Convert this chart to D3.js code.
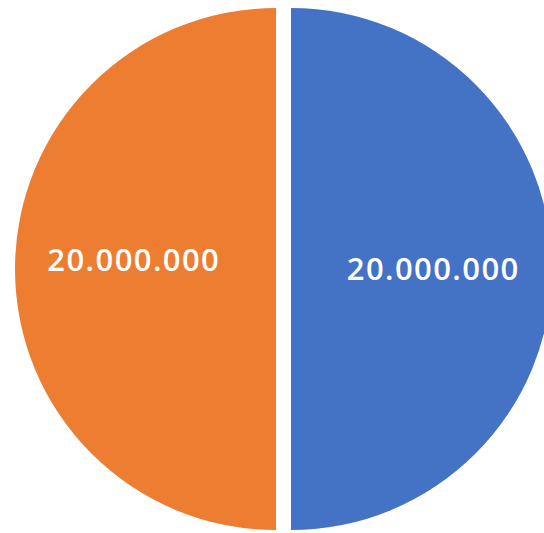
<!DOCTYPE html>
<html lang="en">
<head>
<meta charset="utf-8" />
<title>Pie</title>
<style>
  body { margin: 0; background: #fff; }
  svg { display: block; }
</style>
</head>
<body>
<div id="chart"></div>
<script src="https://cdn.jsdelivr.net/npm/d3@7/dist/d3.min.js"></script>
<script type="text/javascript">
// chart data
var categories = ["B", "A"];
var values = [20000000, 20000000];
var labels = ["20.000.000", "20.000.000"];
var colors = ["#4472C4", "#ED7D31"];

var width = 544, height = 533;
var r = 261, cx = 283.5, cy = 269, explode = 7.5;

var svg = d3.select("#chart").append("svg")
    .attr("width", width)
    .attr("height", height);

var pie = d3.pie().sort(null).value(function (d) { return d; });
var arc = d3.arc().innerRadius(0).outerRadius(r);
var labelArc = d3.arc().innerRadius(r * 0.545).outerRadius(r * 0.545);

var slices = svg.selectAll("g.slice")
  .data(pie(values))
  .enter().append("g")
    .attr("class", "slice")
    .attr("transform", function (d) {
      var a = (d.startAngle + d.endAngle) / 2;
      return "translate(" + (cx + Math.sin(a) * explode) + "," + (cy - Math.cos(a) * explode) + ")";
    });

slices.append("path")
   .attr("d", arc)
   .attr("fill", function (d, i) { return colors[i]; });

// excel puts the two labels at slightly different heights
slices.append("text")
   .attr("transform", function (d) { return "translate(" + labelArc.centroid(d) + ")"; })
   .attr("dy", function (d, i) { return i == 0 ? "0.36em" : "0.08em"; })
   .attr("text-anchor", "middle")
   .attr("font-family", "'Open Sans', sans-serif")
   .attr("font-weight", 600)
   .attr("font-size", 31)
   .attr("letter-spacing", 1.4)
   .attr("fill", "white")
   .text(function (d, i) { return labels[i]; });
</script>
</body>
</html>
